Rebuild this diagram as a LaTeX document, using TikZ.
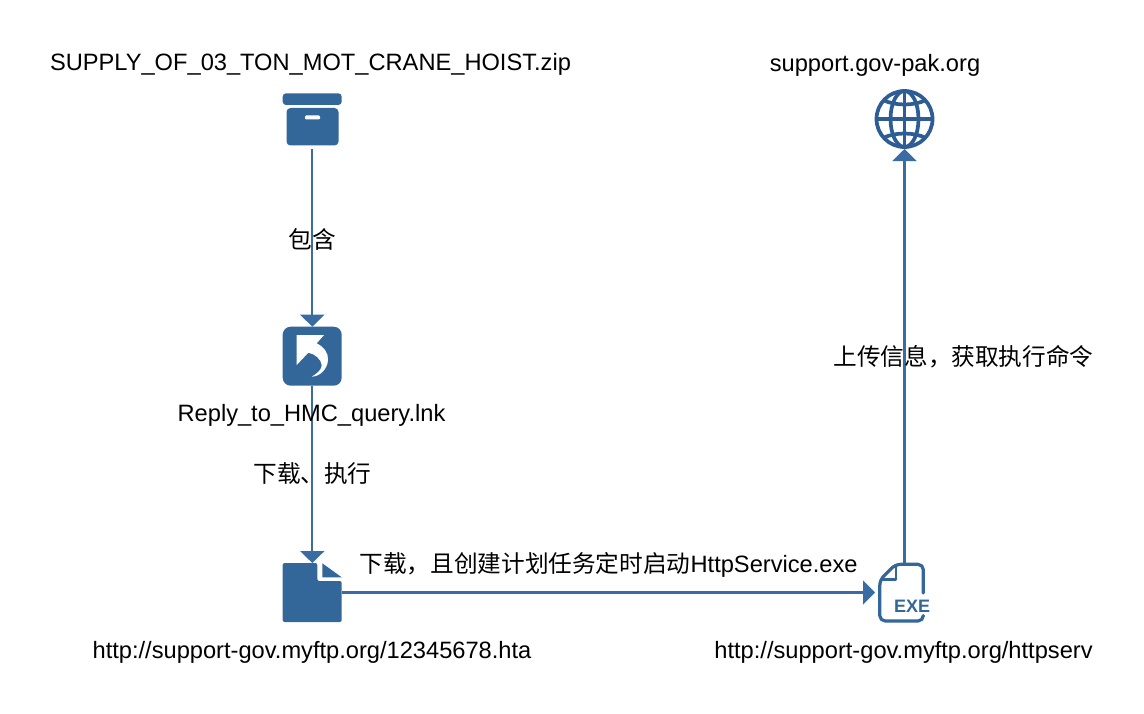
\documentclass[tikz,border=0pt]{standalone}
\usepackage{fontspec}
\setmainfont{Liberation Sans}
\newfontfamily\cjk{Noto Sans CJK SC}
\usetikzlibrary{arrows.meta}
\definecolor{iconblue}{HTML}{336699}
\definecolor{linkblue}{HTML}{3A6CA3}
\definecolor{globeblue}{HTML}{2E5C94}
\tikzset{
  x=0.75pt,y=-0.75pt,
  label text/.style={font=\fontsize{17.74pt}{20pt}\selectfont,inner sep=0pt,anchor=center,text=black},
  icon box/.style={minimum width=44.25pt,minimum height=44.25pt,inner sep=0pt,outer sep=0pt},
  link/.style={draw=linkblue,line width=1.6pt,-{Triangle[length=9pt,width=18pt,fill=linkblue]}},
}
\begin{document}
\begin{tikzpicture}
\useasboundingbox (0,0) rectangle (1144,713);

% anchors for the four files and the remote host
\node[icon box] (zip) at (312.3,119.5) {};
\node[icon box] (lnk) at (312.3,356.2) {};
\node[icon box] (hta) at (312.3,592.5) {};
\node[icon box] (exe) at (904.5,592.5) {};
\node[icon box] (web) at (904.5,119.5) {};

% connectors
\draw[link] (zip.south) -- (lnk.north);
\draw[link] (lnk.south) -- (hta.north);
\draw[link] (hta.east) -- (exe.west);
\draw[link] (exe.north) -- (web.south);

% archive box
\fill[iconblue,rounded corners=2.5pt] (282.7,93.3) rectangle (341.7,105);
\fill[iconblue,rounded corners=3pt] (286.5,108) -- (338.5,108) -- (338.5,145.5) -- (286.5,145.5) -- cycle;
\fill[white,rounded corners=0.8pt] (305,115.5) rectangle (320,119.5);

% shortcut tile with its curved arrow
\fill[iconblue,rounded corners=6pt] (282.7,326.7) rectangle (341.7,385.7);
\fill[white] (296.7,335) -- (324,335) -- (316.7,343.3)
  .. controls (324,347) and (328.5,353) .. (328,360)
  .. controls (327.5,369) and (320,376.5) .. (311.7,376.7)
  .. controls (318,373) and (322,369) .. (321.7,365)
  .. controls (321,359) and (315,354) .. (308.3,352.7)
  -- (296.7,365) -- cycle;

% plain document
\fill[iconblue,rounded corners=1.5pt] (282.7,563) -- (317.3,563) -- (317.3,581) -- (341.7,581) -- (341.7,622) -- (282.7,622) -- cycle;
\fill[iconblue] (322.3,563.3) -- (341.7,577.3) -- (322.3,577.3) -- cycle;

% executable document
\draw[iconblue,line width=2.4pt,line cap=round,line join=round,rounded corners=4pt]
  (923.3,593) -- (923.3,564.3) -- (895.5,564.3) -- (879.8,580) -- (879.8,621) -- (923.3,621) -- (923.3,616.5);
\draw[iconblue,line width=1.6pt,line join=round] (896,566) -- (896,579.5) -- (882,579.5);
\node[iconblue,font=\bfseries\fontsize{13.5pt}{14pt}\selectfont,inner sep=0pt] (exetag) at (912,606) {EXE};

% globe
\begin{scope}[globeblue,line width=2.8pt]
  \draw (904.5,119) circle[radius=28];
  \draw (904.5,119) ellipse[x radius=14,y radius=28];
  \draw (904.5,91) -- (904.5,147);
  \draw (876.5,119) -- (932.5,119);
  \draw (883,100) .. controls (895,106) and (914,106) .. (926,100);
  \draw (883,138) .. controls (895,132) and (914,132) .. (926,138);
\end{scope}

% labels
\node[label text] (t1) at (310.5,64) {SUPPLY\_OF\_03\_TON\_MOT\_CRANE\_HOIST.zip};
\node[label text] (t2) at (875,65) {support.gov-pak.org};
\node[label text] (t3) at (311.5,415.5) {Reply\_to\_HMC\_query.lnk};
\node[label text] (t4) at (312,652) {http://support-gov.myftp.org/12345678.hta};
\node[label text] (t5) at (903.5,652) {http://support-gov.myftp.org/httpserv};
\node[label text] (t6) at (312,239.5) {\cjk 包含};
\node[label text] (t7) at (312.5,474) {\cjk 下载、执行};
\node[label text] (t8) at (608.5,565) {\cjk 下载，且创建计划任务定时启动\rmfamily HttpService.exe};
\node[label text] (t9) at (963.5,356.5) {\cjk 上传信息，获取执行命令};
\end{tikzpicture}
\end{document}
